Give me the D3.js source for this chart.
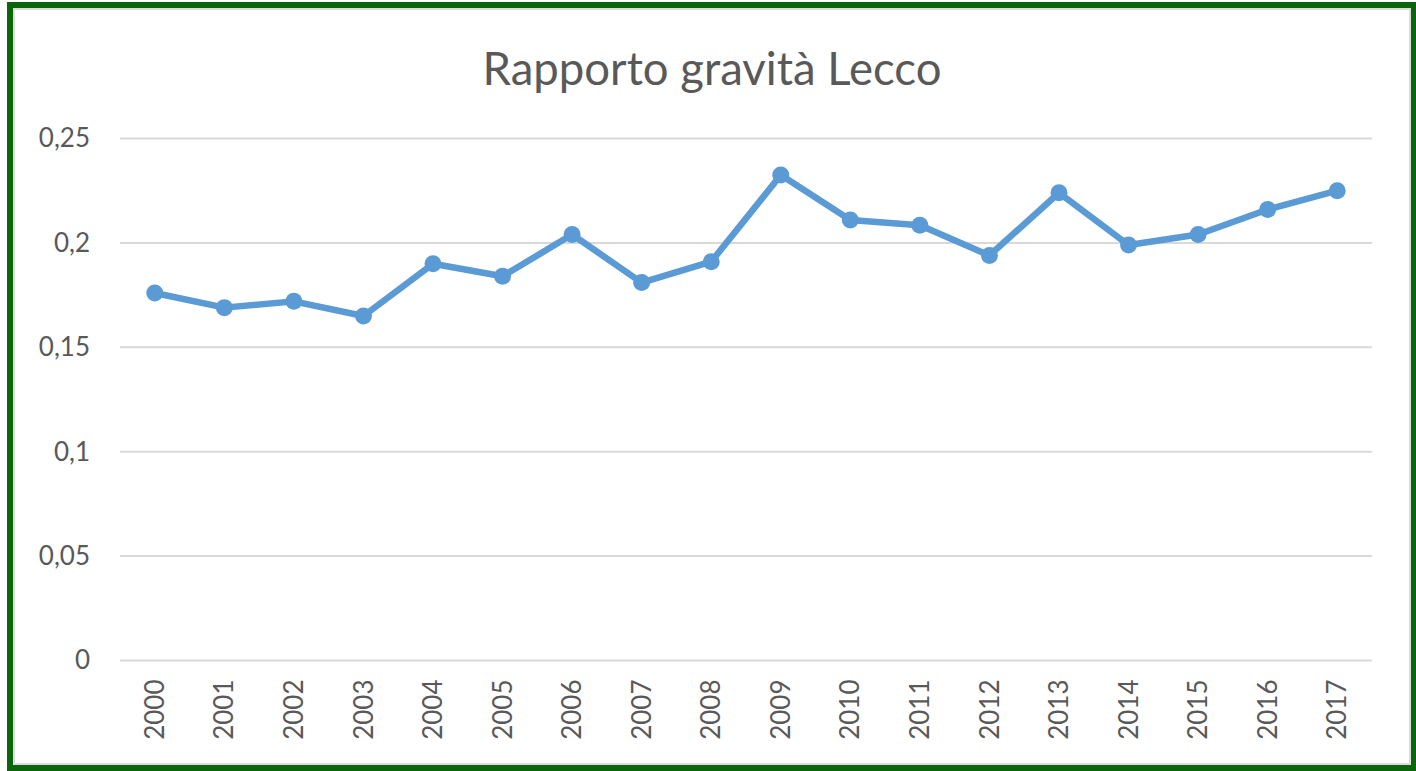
<!DOCTYPE html>
<html>
<head>
<meta charset="utf-8">
<script src="https://cdn.jsdelivr.net/npm/d3@7"></script>
<style>
  html, body { margin: 0; padding: 0; background: #fff; }
  svg { display: block; }
  .grid line { stroke: #d9d9d9; stroke-width: 2px; }
  .axis text { font-family: Lato, "Open Sans", sans-serif; font-size: 26px; fill: #595959; }
</style>
</head>
<body>
<div id="chart"></div>
<script>
// data
const chartTitle = "Rapporto gravità Lecco";
const years = ["2000", "2001", "2002", "2003", "2004", "2005", "2006", "2007", "2008",
  "2009", "2010", "2011", "2012", "2013", "2014", "2015", "2016", "2017"];
const ratio = [0.176, 0.169, 0.172, 0.165, 0.190, 0.184, 0.204, 0.181, 0.191,
  0.2325, 0.211, 0.2085, 0.194, 0.224, 0.199, 0.204, 0.216, 0.225];
const yTicks = [0, 0.05, 0.1, 0.15, 0.2, 0.25];

const width = 1416, height = 771;
const plot = { left: 120, right: 1372, top: 138.5, bottom: 660.5 };

const svg = d3.select("#chart").append("svg")
  .attr("width", width)
  .attr("height", height);

// frame
svg.append("rect")
  .attr("x", 10).attr("y", 5)
  .attr("width", 1403).attr("height", 763)
  .attr("fill", "#fff")
  .attr("stroke", "#0b650b")
  .attr("stroke-width", 6);
svg.append("rect")
  .attr("x", 14).attr("y", 9)
  .attr("width", 1396).attr("height", 755)
  .attr("fill", "none")
  .attr("stroke", "#dcdcdc")
  .attr("stroke-width", 2);

const x = d3.scaleBand()
  .domain(years)
  .range([plot.left, plot.right])
  .padding(0);

const y = d3.scaleLinear()
  .domain([0, 0.25])
  .range([plot.bottom, plot.top]);

// gridlines
svg.append("g")
  .attr("class", "grid")
  .selectAll("line")
  .data(yTicks)
  .enter().append("line")
  .attr("x1", plot.left)
  .attr("x2", plot.right)
  .attr("y1", d => y(d))
  .attr("y2", d => y(d));

// y axis labels
const yAxis = d3.axisLeft(y)
  .tickValues(yTicks)
  .tickSize(0)
  .tickPadding(0)
  .tickFormat(d => String(+d.toFixed(2)).replace(".", ","));

svg.append("g")
  .attr("class", "axis y")
  .attr("transform", "translate(90,0)")
  .call(yAxis)
  .call(g => g.select(".domain").remove());

// x axis labels, rotated
const xAxis = d3.axisBottom(x).tickSize(0).tickPadding(0);
const xg = svg.append("g")
  .attr("class", "axis x")
  .attr("transform", "translate(0," + plot.bottom + ")")
  .call(xAxis);
xg.select(".domain").remove();
xg.selectAll("text")
  .attr("text-anchor", "end")
  .attr("x", -19)
  .attr("y", 0)
  .attr("dy", "0.35em")
  .attr("transform", "rotate(-90)");

// line + markers
const line = d3.line()
  .x((d, i) => x(years[i]) + x.bandwidth() / 2)
  .y(d => y(d));

svg.append("path")
  .datum(ratio)
  .attr("d", line)
  .attr("fill", "none")
  .attr("stroke", "#5b9bd5")
  .attr("stroke-width", 6.5)
  .attr("stroke-linejoin", "round");

svg.append("g")
  .selectAll("circle")
  .data(ratio)
  .enter().append("circle")
  .attr("cx", (d, i) => x(years[i]) + x.bandwidth() / 2)
  .attr("cy", d => y(d))
  .attr("r", 8.5)
  .attr("fill", "#5b9bd5");

// title
svg.append("text")
  .attr("x", 712)
  .attr("y", 85)
  .attr("text-anchor", "middle")
  .attr("font-family", "Lato, 'Open Sans', sans-serif")
  .attr("font-size", 45.5)
  .attr("fill", "#595959")
  .text(chartTitle);
</script>
</body>
</html>
